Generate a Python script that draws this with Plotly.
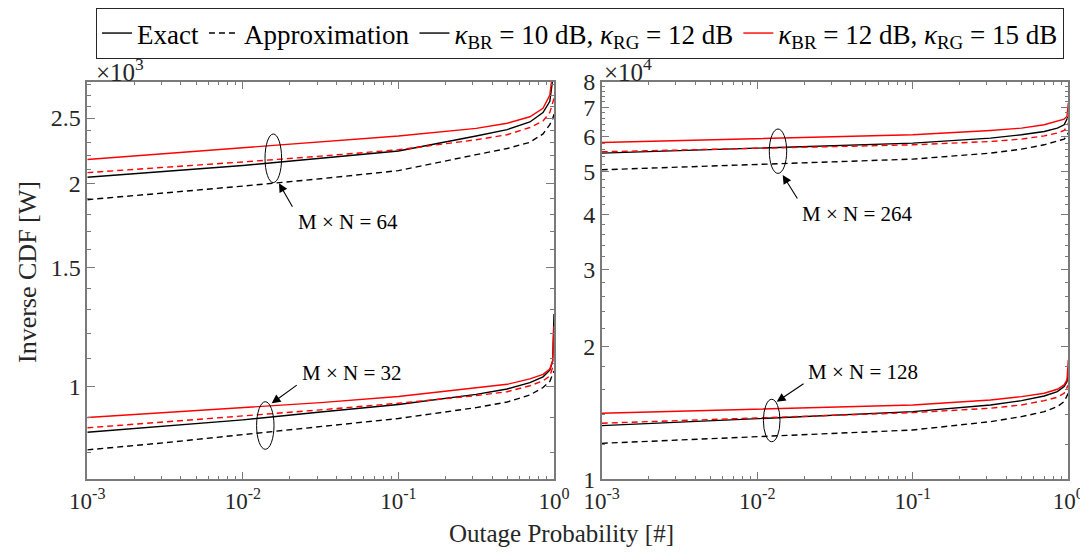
import math
import plotly.graph_objects as go

# ---------------- data ----------------
outage_prob = [0.001, 0.00316, 0.01, 0.0316, 0.1, 0.316, 0.5, 0.7, 0.85, 0.94, 0.98, 1.0]

# M x N = 32  (left panel, lower group)  [W]
mn32_exact_k1 = [857, 875, 894, 918, 942, 975, 993, 1015, 1035, 1059, 1091, 1282]
mn32_approx_k1 = [807, 827, 850, 874, 898, 932, 950, 973, 998, 1019, 1044, 1056]
mn32_exact_k2 = [901, 916, 931, 948, 968, 997, 1009, 1028, 1044, 1063, 1094, 1231]
mn32_approx_k2 = [870, 887, 906, 925, 946, 971, 984, 1004, 1021, 1038, 1066, 1084]

# M x N = 64  (left panel, upper group)
mn64_exact_k1 = [2043, 2084, 2127, 2180, 2235, 2352, 2404, 2467, 2548, 2647, 2837, 2952]
mn64_approx_k1 = [1893, 1935, 1983, 2033, 2090, 2207, 2254, 2302, 2369, 2445, 2492, 2533]
mn64_exact_k2 = [2171, 2216, 2263, 2305, 2352, 2414, 2456, 2511, 2585, 2705, 2924, 3025]
mn64_approx_k2 = [2076, 2112, 2153, 2196, 2244, 2322, 2362, 2421, 2475, 2548, 2626, 2674]

# M x N = 128 (right panel, lower group)
mn128_exact_k1 = [13240, 13484, 13731, 13986, 14243, 14753, 15087, 15463, 15815, 16236, 16664, 17258]
mn128_approx_k1 = [12070, 12271, 12492, 12710, 12942, 13519, 13878, 14243, 14622, 15011, 15406, 15685]
mn128_exact_k2 = [14125, 14272, 14431, 14591, 14753, 15142, 15406, 15685, 16014, 16379, 16814, 18666]
mn128_approx_k2 = [13408, 13590, 13760, 13964, 14171, 14501, 14753, 15087, 15360, 15685, 16099, 16379]

# M x N = 264 (right panel, upper group)
mn264_exact_k1 = [55060, 55800, 56530, 57280, 58030, 59570, 60600, 61660, 62760, 63860, 65560, 66700]
mn264_approx_k1 = [50470, 51130, 51860, 52620, 53370, 55060, 56230, 57510, 58520, 59250, 60280, 61240]
mn264_exact_k2 = [58210, 58790, 59340, 59980, 60600, 61990, 62770, 63860, 64970, 65800, 66700, 71530]
mn264_approx_k2 = [55450, 55980, 56490, 57000, 57510, 58520, 59250, 60280, 61160, 61990, 63300, 64430]

legend_names = ["Exact", "Approximation",
                "<i>κ</i><sub>BR</sub> = 10 dB, <i>κ</i><sub>RG</sub> = 12 dB",
                "<i>κ</i><sub>BR</sub> = 12 dB, <i>κ</i><sub>RG</sub> = 15 dB"]

x_ticks = [0.001, 0.01, 0.1, 1]
x_ticktext = ["10<sup>-3</sup>", "10<sup>-2</sup>", "10<sup>-1</sup>", "10<sup>0</sup>"]
left_yticks = [1000, 1500, 2000, 2500, 3000]
left_yticktext = ["1", "1.5", "2", "2.5", "3"]
right_yticks = [10000, 20000, 30000, 40000, 50000, 60000, 70000, 80000]
right_yticktext = ["1", "2", "3", "4", "5", "6", "7", "8"]

# ---------------- figure ----------------
# the page adds an 8px body margin, so the figure is 8px smaller and
# every layout position below is given in window pixels minus 8.
OFF = 8
W, H = 1088 - OFF, 554 - OFF
FONT = "Liberation Serif, Times New Roman, serif"
BLACK, RED = "#000000", "#ff0000"
DASH = "6px,4px"
AXC = "#7a7a7a"
TXT = "#262626"


def px(x):
    return (x - OFF) / W


def py(y):
    return 1 - (y - OFF) / H


fig = go.Figure()


def add(y, color, dash, xa, ya, name=None):
    fig.add_trace(go.Scatter(
        x=outage_prob, y=y, mode="lines",
        line=dict(color=color, width=1.4, dash=dash),
        xaxis=xa, yaxis=ya, name=name, showlegend=name is not None,
        hoverinfo="skip"))


# legend-bearing traces first
add(mn64_exact_k1, BLACK, "solid", "x", "y", legend_names[0])
add(mn64_approx_k1, BLACK, DASH, "x", "y", legend_names[1])
add(mn32_exact_k1, BLACK, "solid", "x", "y", legend_names[2])
add(mn64_exact_k2, RED, "solid", "x", "y", legend_names[3])
add(mn64_approx_k2, RED, DASH, "x", "y")
add(mn32_approx_k1, BLACK, DASH, "x", "y")
add(mn32_exact_k2, RED, "solid", "x", "y")
add(mn32_approx_k2, RED, DASH, "x", "y")

add(mn264_exact_k1, BLACK, "solid", "x2", "y2")
add(mn264_approx_k1, BLACK, DASH, "x2", "y2")
add(mn264_exact_k2, RED, "solid", "x2", "y2")
add(mn264_approx_k2, RED, DASH, "x2", "y2")
add(mn128_exact_k1, BLACK, "solid", "x2", "y2")
add(mn128_approx_k1, BLACK, DASH, "x2", "y2")
add(mn128_exact_k2, RED, "solid", "x2", "y2")
add(mn128_approx_k2, RED, DASH, "x2", "y2")

x_minor = [k * 10 ** e for e in (-3, -2, -1) for k in range(2, 10)]
left_minor = [v for v in range(700, 3001, 100) if v not in left_yticks]
right_minor = [v for v in range(10000, 80001, 2000) if v not in right_yticks]

common_axis = dict(
    showline=True, linecolor=AXC, linewidth=1.5, mirror="allticks",
    ticks="inside", ticklen=8, tickwidth=1, tickcolor=AXC,
    showgrid=False, zeroline=False, automargin=False,
    tickfont=dict(family=FONT, size=24, color=TXT),
)
x_tickfont = dict(family=FONT, size=23, color=TXT)

y_dom = [py(479.3), py(81.7)]

fig.update_layout(
    width=W, height=H,
    margin=dict(l=0, r=0, t=0, b=0, autoexpand=False),
    paper_bgcolor="white", plot_bgcolor="white",
    font=dict(family=FONT, color=TXT),
    xaxis=dict(domain=[px(87.3), px(554)], type="log", range=[-3, 0],
               tickmode="array", tickvals=x_ticks, ticktext=x_ticktext,
               minor=dict(ticks="inside", ticklen=4, tickcolor=AXC, tickmode="array", tickvals=x_minor),
               anchor="y", **{**common_axis, "tickfont": x_tickfont}),
    yaxis=dict(domain=y_dom, type="log", range=[math.log10(730), math.log10(2830)],
               tickmode="array", tickvals=left_yticks, ticktext=left_yticktext,
               minor=dict(ticks="inside", ticklen=4, tickcolor=AXC, tickmode="array", tickvals=left_minor),
               anchor="x", **common_axis),
    xaxis2=dict(domain=[px(601.7), px(1068.3)], type="log", range=[-3, 0],
                tickmode="array", tickvals=x_ticks, ticktext=x_ticktext,
                minor=dict(ticks="inside", ticklen=4, tickcolor=AXC, tickmode="array", tickvals=x_minor),
                anchor="y2", **{**common_axis, "tickfont": x_tickfont}),
    yaxis2=dict(domain=y_dom, type="log", range=[4, math.log10(80000)],
                tickmode="array", tickvals=right_yticks, ticktext=right_yticktext,
                minor=dict(ticks="inside", ticklen=4, tickcolor=AXC, tickmode="array", tickvals=right_minor),
                anchor="x2", **common_axis),
    legend=dict(orientation="h", xref="container", yref="container",
                x=px(580), xanchor="center", y=1, yanchor="top",
                bgcolor="white", bordercolor="#262626", borderwidth=1,
                font=dict(family=FONT, size=27, color="#000000"),
                itemwidth=30, tracegroupgap=0),
)

# ellipses (group markers)
ellipses = [(265.0, 134.0, 281.6, 182.6), (256.6, 401.7, 274.0, 449.3),
            (769.3, 129.0, 786.7, 173.4), (763.4, 399.3, 780.0, 441.7)]
for x0, y0, x1, y1 in ellipses:
    fig.add_shape(type="circle", xref="paper", yref="paper",
                  x0=px(x0), x1=px(x1), y0=py(y1), y1=py(y0),
                  line=dict(color="#000000", width=1))

# arrows: (head x, head y, tail dx, tail dy)
arrows = [(279.0, 183.3, 14.3, 25.0), (271.7, 403.3, 26.6, -19.3),
          (782.7, 175.0, 15.6, 25.0), (776.7, 401.7, 28.3, -19.0)]
for hx, hy, dx, dy in arrows:
    fig.add_annotation(x=px(hx), y=py(hy), xref="paper", yref="paper", text="",
                       showarrow=True, ax=dx, ay=dy, arrowhead=2, arrowsize=1.6,
                       arrowwidth=1.1, arrowcolor="#000000")

labels = [("M × N = 64", 347.5, 221.7), ("M × N = 32", 351.7, 373.3),
          ("M × N = 264", 857.0, 214.0), ("M × N = 128", 863.3, 371.7)]
for t, cx, cy in labels:
    fig.add_annotation(x=px(cx), y=py(cy), xref="paper", yref="paper", text=t,
                       showarrow=False, font=dict(family=FONT, size=21, color="#000000"),
                       xanchor="center", yanchor="middle")

# exponent labels
fig.add_annotation(x=px(94), y=py(70), xref="paper", yref="paper", text="×10<sup>3</sup>",
                   showarrow=False, xanchor="left", yanchor="middle",
                   font=dict(family=FONT, size=25, color=TXT))
fig.add_annotation(x=px(602), y=py(70), xref="paper", yref="paper", text="×10<sup>4</sup>",
                   showarrow=False, xanchor="left", yanchor="middle",
                   font=dict(family=FONT, size=25, color=TXT))

# axis titles
fig.add_annotation(x=px(27), y=py(272), xref="paper", yref="paper", text="Inverse CDF [W]",
                   showarrow=False, textangle=-90, xanchor="center", yanchor="middle",
                   font=dict(family=FONT, size=26, color=TXT))
fig.add_annotation(x=px(561), y=py(533), xref="paper", yref="paper", text="Outage Probability [#]",
                   showarrow=False, xanchor="center", yanchor="middle",
                   font=dict(family=FONT, size=25, color=TXT))

fig.write_html("out.html")
